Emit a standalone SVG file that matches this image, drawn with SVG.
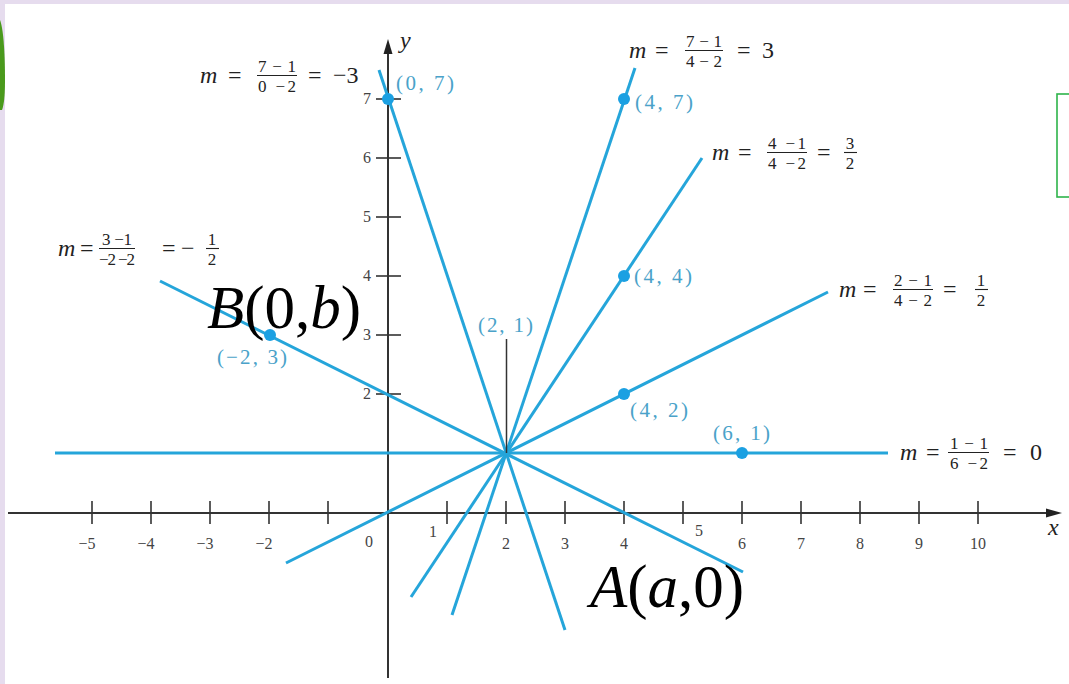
<svg xmlns="http://www.w3.org/2000/svg" width="1069" height="684" viewBox="0 0 1069 684">
<style>
.ax{stroke:#333;stroke-width:2;fill:none}
.tk{stroke:#333;stroke-width:1.6}
.ln{stroke:#25a5da;stroke-width:3;fill:none;stroke-linecap:butt}
.dot{fill:#1ba0e2}
.num{font-family:"Liberation Serif",serif;font-size:16px;fill:#444}
.pl{font-family:"Liberation Serif",serif;font-size:21px;fill:#4aa2c9}
.eq{font-family:"Liberation Serif",serif;font-size:24px;fill:#222}
.fr{font-family:"Liberation Serif",serif;font-size:17px;fill:#222}
.frc{font-family:"Liberation Serif",serif;font-size:17px;fill:#222;text-anchor:middle}
.bar{stroke:#222;stroke-width:1.1}
.it{font-style:italic}
.big{font-family:"Liberation Serif",serif;font-size:61px;fill:#000}
</style>
<rect x="0" y="0" width="1069" height="684" fill="#e6dcee"/>
<rect x="5" y="4" width="1064" height="680" fill="#ffffff"/>
<path d="M0,20 C4,30 5,60 5,80 C5,95 4,105 2,110 L0,110 Z" fill="#4a9a1c"/>
<rect x="1057" y="94" width="14" height="103" fill="none" stroke="#2db34a" stroke-width="1.6"/>

<g id="axes">
<line class="ax" x1="8" y1="513" x2="1050" y2="513"/>
<polygon points="1062,513 1046,508.5 1046,517.5" fill="#222"/>
<line class="ax" x1="388" y1="678" x2="388" y2="50"/>
<polygon points="388,39 383.5,54 392.5,54" fill="#222"/>
<text x="400" y="48" class="eq it" font-size="19">y</text>
<text x="1048" y="535" class="eq it" font-size="19">x</text>
<g class="tk">
<line x1="92" y1="501" x2="92" y2="524"/><line x1="151" y1="501" x2="151" y2="524"/>
<line x1="210" y1="501" x2="210" y2="524"/><line x1="269" y1="501" x2="269" y2="524"/>
<line x1="328" y1="501" x2="328" y2="524"/><line x1="447" y1="501" x2="447" y2="524"/>
<line x1="506" y1="501" x2="506" y2="524"/><line x1="565" y1="501" x2="565" y2="524"/>
<line x1="624" y1="501" x2="624" y2="524"/><line x1="683" y1="501" x2="683" y2="524"/>
<line x1="742" y1="501" x2="742" y2="524"/><line x1="801" y1="501" x2="801" y2="524"/>
<line x1="860" y1="501" x2="860" y2="524"/><line x1="919" y1="501" x2="919" y2="524"/>
<line x1="978" y1="501" x2="978" y2="524"/>
<line x1="376" y1="453" x2="401" y2="453"/><line x1="376" y1="394" x2="401" y2="394"/>
<line x1="376" y1="335" x2="401" y2="335"/><line x1="376" y1="276" x2="401" y2="276"/>
<line x1="376" y1="217" x2="401" y2="217"/><line x1="376" y1="158" x2="401" y2="158"/>
<line x1="376" y1="99" x2="401" y2="99"/>
</g>
<g class="num" text-anchor="middle">
<text x="87" y="549">−5</text><text x="146" y="549">−4</text>
<text x="205" y="549">−3</text><text x="264" y="549">−2</text>
<text x="369" y="547">0</text><text x="433" y="537">1</text>
<text x="506" y="549">2</text><text x="565" y="549">3</text>
<text x="624" y="549">4</text><text x="699" y="536">5</text>
<text x="742" y="549">6</text><text x="801" y="549">7</text>
<text x="860" y="549">8</text><text x="919" y="549">9</text>
<text x="978" y="549">10</text>
</g>
<g class="num" text-anchor="end">
<text x="371" y="399">2</text><text x="371" y="340">3</text>
<text x="371" y="281">4</text><text x="371" y="222">5</text>
<text x="371" y="163">6</text><text x="371" y="104">7</text>
</g>
</g>

<g id="connectors">
<line class="ln" x1="55" y1="453" x2="888" y2="453"/>
<line class="ln" x1="379" y1="70" x2="565" y2="630"/>
<line class="ln" x1="635" y1="68" x2="452" y2="615"/>
<line class="ln" x1="702" y1="158" x2="411" y2="597"/>
<line class="ln" x1="828" y1="292" x2="286" y2="563"/>
<line class="ln" x1="160" y1="281" x2="743" y2="572"/>
<line x1="506.5" y1="339" x2="506.5" y2="453" stroke="#333" stroke-width="1.5"/>
</g>

<g id="p07"><circle class="dot" cx="388" cy="99" r="6"/><text class="pl" x="396" y="90" textLength="58">(0, 7)</text></g>
<g id="p47"><circle class="dot" cx="624" cy="99" r="6"/><text class="pl" x="635" y="109" textLength="58">(4, 7)</text></g>
<g id="p44"><circle class="dot" cx="624" cy="276" r="6"/><text class="pl" x="634" y="283" textLength="58">(4, 4)</text></g>
<g id="p42"><circle class="dot" cx="624" cy="394" r="6"/><text class="pl" x="630" y="417" textLength="58">(4, 2)</text></g>
<g id="p61"><circle class="dot" cx="742" cy="453" r="6"/><text class="pl" x="713" y="440" textLength="57">(6, 1)</text></g>
<g id="pm23"><circle class="dot" cx="270" cy="335" r="6"/><text class="pl" x="217" y="364" textLength="70">(−2, 3)</text></g>
<g id="p21"><text class="pl" x="478" y="332" textLength="55">(2, 1)</text></g>

<g id="slope-m3">
<text class="eq it" x="200" y="83">m</text><text class="eq" x="228" y="83">=</text>
<text class="fr" x="258" y="71.5" textLength="38">7−1</text><line class="bar" x1="257" y1="75.5" x2="297" y2="75.5"/><text class="fr" x="258" y="92" textLength="38">0 −2</text>
<text class="eq" x="308" y="83">=</text><text class="eq" x="333" y="83">−3</text>
</g>
<g id="slope-3">
<text class="eq it" x="629" y="58">m</text><text class="eq" x="655" y="58">=</text>
<text class="fr" x="686" y="46.5" textLength="36">7−1</text><line class="bar" x1="685" y1="50.5" x2="723" y2="50.5"/><text class="fr" x="686" y="67" textLength="36">4−2</text>
<text class="eq" x="737" y="58">=</text><text class="eq" x="762" y="58">3</text>
</g>
<g id="slope-3-2">
<text class="eq it" x="712" y="160">m</text><text class="eq" x="738" y="160">=</text>
<text class="fr" x="768" y="148.5" textLength="38">4 −1</text><line class="bar" x1="767" y1="152.5" x2="807" y2="152.5"/><text class="fr" x="768" y="169" textLength="38">4 −2</text>
<text class="eq" x="817" y="160">=</text>
<text class="frc" x="850" y="148.5">3</text><line class="bar" x1="844" y1="152.5" x2="857" y2="152.5"/><text class="frc" x="850" y="169">2</text>
</g>
<g id="slope-1-2">
<text class="eq it" x="839" y="297">m</text><text class="eq" x="863" y="297">=</text>
<text class="fr" x="894" y="285.5" textLength="38">2−1</text><line class="bar" x1="893" y1="289.5" x2="933" y2="289.5"/><text class="fr" x="894" y="306" textLength="38">4−2</text>
<text class="eq" x="943" y="297">=</text>
<text class="frc" x="981" y="285.5">1</text><line class="bar" x1="975" y1="289.5" x2="988" y2="289.5"/><text class="frc" x="981" y="306">2</text>
</g>
<g id="slope-0">
<text class="eq it" x="900" y="460">m</text><text class="eq" x="926" y="460">=</text>
<text class="fr" x="950" y="448.5" textLength="38">1−1</text><line class="bar" x1="948" y1="452.5" x2="989" y2="452.5"/><text class="fr" x="950" y="469" textLength="38">6 −2</text>
<text class="eq" x="1003" y="460">=</text><text class="eq" x="1030" y="460">0</text>
</g>
<g id="slope-m1-2">
<text class="eq it" x="58" y="256">m</text><text class="eq" x="80" y="256">=</text>
<text class="fr" x="102" y="244.5" textLength="30">3 −1</text><line class="bar" x1="99" y1="248.5" x2="135" y2="248.5"/><text class="fr" x="99" y="265" textLength="36">−2 −2</text>
<text class="eq" x="162" y="256">=</text><text class="eq" x="181" y="256">−</text>
<text class="frc" x="212" y="244.5">1</text><line class="bar" x1="206" y1="248.5" x2="219" y2="248.5"/><text class="frc" x="212" y="265">2</text>
</g>

<g id="labelB"><text class="big" x="207" y="328"><tspan class="it">B</tspan>(0,<tspan class="it">b</tspan>)</text></g>
<g id="labelA"><text class="big" x="590" y="607"><tspan class="it">A</tspan>(<tspan class="it">a</tspan>,0)</text></g>
</svg>
